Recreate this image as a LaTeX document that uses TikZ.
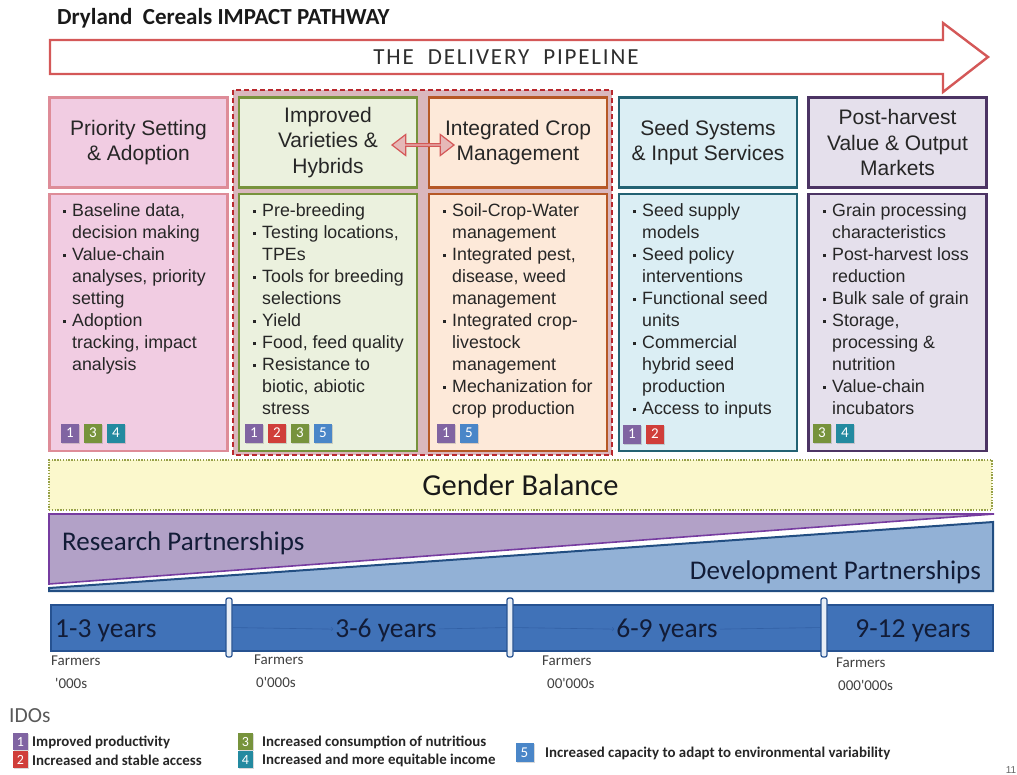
\documentclass[tikz,border=0pt]{standalone}
\usepackage{fontspec}
\setmainfont{Liberation Sans}
\newfontfamily\calibri[Numbers=Lining]{Carlito}
\newfontfamily\pipefont[LetterSpace=8]{Carlito}
\usetikzlibrary{shapes.arrows,shadows,calc}

\definecolor{pinkfill}{RGB}{241,204,226}
\definecolor{pinkline}{RGB}{222,140,152}
\definecolor{greenfill}{RGB}{235,241,222}
\definecolor{greenline}{RGB}{119,147,60}
\definecolor{orangefill}{RGB}{253,233,217}
\definecolor{orangeline}{RGB}{182,88,38}
\definecolor{bluefill}{RGB}{219,238,244}
\definecolor{blueline}{RGB}{35,98,115}
\definecolor{lilacfill}{RGB}{229,224,236}
\definecolor{lilacline}{RGB}{76,52,100}
\definecolor{groupfill}{RGB}{218,183,189}
\definecolor{groupline}{RGB}{185,40,45}
\definecolor{pipered}{RGB}{212,88,88}
\definecolor{swapfill}{RGB}{230,184,183}
\definecolor{genderfill}{RGB}{251,248,204}
\definecolor{genderline}{RGB}{150,160,70}
\definecolor{resfill}{RGB}{178,161,199}
\definecolor{resline}{RGB}{118,60,160}
\definecolor{devfill}{RGB}{146,177,214}
\definecolor{devline}{RGB}{34,78,130}
\definecolor{barfill}{RGB}{64,114,184}
\definecolor{barline}{RGB}{38,82,145}
\definecolor{faintline}{RGB}{50,96,165}
\definecolor{navy}{RGB}{18,28,55}
\definecolor{ido1}{RGB}{128,100,162}
\definecolor{ido2}{RGB}{208,62,58}
\definecolor{ido3}{RGB}{119,147,60}
\definecolor{ido4}{RGB}{35,138,160}
\definecolor{ido5}{RGB}{74,134,200}

\newcommand\fsz[2]{\fontsize{#1}{#2}\selectfont}
\newcommand\bu{\llap{\rule[3pt]{3.6pt}{3.6pt}\hspace{6pt}}}

\tikzset{
  headbox/.style={draw=#1line, fill=#1fill, line width=2.2pt, minimum width=178pt,
    minimum height=90pt, inner sep=0pt, align=center, font=\fsz{21}{25.5}, text=black!85},
  bodybox/.style={draw=#1line, fill=#1fill, line width=2.2pt, minimum width=178pt,
    minimum height=257pt, inner sep=0pt},
  listtext/.style={align=left, anchor=north west, inner sep=0pt, font=\fsz{17.8}{22}, text=black!85},
  badge/.style={fill=#1, text=white, minimum width=18pt, minimum height=19pt, inner sep=0pt,
    font=\calibri\fsz{15}{15}, drop shadow={shadow xshift=1pt, shadow yshift=-1pt, opacity=0.3}},
  keybadge/.style={badge=#1, minimum width=15pt, minimum height=17pt, font=\calibri\fsz{14}{14}},
  keytext/.style={anchor=west, inner sep=0pt, font=\calibri\bfseries\fsz{14.9}{14.9}, text=black!85},
  group/.style={draw=groupline, fill=groupfill, line width=2pt, dash pattern=on 5pt off 3pt},
  swap/.style={double arrow, draw=pipered, fill=swapfill, line width=1.2pt, minimum height=62pt,
    minimum width=21pt, double arrow head extend=4.5pt, double arrow tip angle=75, inner sep=0pt},
  divider/.style={draw=barline, fill=white!88!barfill, rounded corners=2pt, line width=1.2pt,
    minimum width=6pt, minimum height=59pt, inner sep=0pt},
  years/.style={font=\calibri\fsz{27.5}{27.5}, text=navy, inner sep=2pt},
  farmers/.style={align=left, anchor=north west, inner sep=0pt, font=\calibri\fsz{15}{23}, text=black!75},
  faint/.style={draw=faintline, line width=0.6pt}
}

\begin{document}
\begin{tikzpicture}[x=1pt, y=-1pt]
  \useasboundingbox (0,0) rectangle (1017,774);

  % title and pipeline
  \node[anchor=west, inner sep=0pt, font=\calibri\bfseries\fsz{23}{23}, text=black!90] (title) at (57,18) {Dryland\ \ Cereals IMPACT PATHWAY};
  \draw[draw=pipered, fill=white, line width=2.4pt] (50,40) -- (943,40) -- (943,23) -- (988,57) -- (943,92) -- (943,74) -- (50,74) -- cycle;
  \node[font=\pipefont\fsz{23}{23}, text=black!82] (pipe) at (506,57) {THE\ \ DELIVERY\ \ PIPELINE};

  % research group
  \draw[group] (233,90) rectangle (612,455);

  % headers
  \node[headbox=pink] (head1) at (138.5,142.5) {Priority Setting\\\& Adoption};
  \node[headbox=green] (head2) at (328,142.5) {Improved\\Varieties \&\\Hybrids};
  \node[headbox=orange] (head3) at (518,142.5) {Integrated Crop\\Management};
  \node[headbox=blue] (head4) at (708,142.5) {Seed Systems\\\& Input Services};
  \node[headbox=lilac] (head5) at (897.5,142.5) {Post-harvest\\Value \& Output\\Markets};
  \node[swap] (swap) at ($(head2.east)!0.5!(head3.west)+(0,2.5)$) {};

  % bodies
  \node[bodybox=pink] (body1) at (138.5,322.5) {};
  \node[bodybox=green] (body2) at (328,322.5) {};
  \node[bodybox=orange] (body3) at (518,322.5) {};
  \node[bodybox=blue] (body4) at (708,322.5) {};
  \node[bodybox=lilac] (body5) at (897.5,322.5) {};

  \node[listtext] (list1) at (72,203) {\bu Baseline data,\\decision making\\\bu Value-chain\\analyses, priority\\setting\\\bu Adoption\\tracking, impact\\analysis};
  \node[listtext] (list2) at (262,203) {\bu Pre-breeding\\\bu Testing locations,\\TPEs\\\bu Tools for breeding\\selections\\\bu Yield\\\bu Food, feed quality\\\bu Resistance to\\biotic, abiotic\\stress};
  \node[listtext] (list3) at (452,203) {\bu Soil-Crop-Water\\management\\\bu Integrated pest,\\disease, weed\\management\\\bu Integrated crop-\\livestock\\management\\\bu Mechanization for\\crop production};
  \node[listtext] (list4) at (642,203) {\bu Seed supply\\models\\\bu Seed policy\\interventions\\\bu Functional seed\\units\\\bu Commercial\\hybrid seed\\production\\\bu Access to inputs};
  \node[listtext] (list5) at (832,203) {\bu Grain processing\\characteristics\\\bu Post-harvest loss\\reduction\\\bu Bulk sale of grain\\\bu Storage,\\processing \&\\nutrition\\\bu Value-chain\\incubators};

  % IDO badges
  \foreach \n [count=\i] in {1,3,4} \node[badge=ido\n] (c1b\n) at (70+23*\i-23,433) {\n};
  \foreach \n [count=\i] in {1,2,3,5} \node[badge=ido\n] (c2b\n) at (254+23*\i-23,433) {\n};
  \foreach \n [count=\i] in {1,5} \node[badge=ido\n] (c3b\n) at (446+23*\i-23,433) {\n};
  \foreach \n [count=\i] in {1,2} \node[badge=ido\n] (c4b\n) at (632+23*\i-23,434) {\n};
  \foreach \n [count=\i] in {3,4} \node[badge=ido\n] (c5b\n) at (822+23*\i-23,433) {\n};

  % gender and partnerships
  \node[draw=genderline, fill=genderfill, line width=1.6pt, dash pattern=on 1.4pt off 1.4pt,
    minimum width=943pt, minimum height=50pt, inner sep=0pt, font=\calibri\fsz{30.5}{30.5}, text=black!90] (gender) at (520.5,485) {Gender Balance};
  \draw[draw=resline, fill=resfill, line width=1.6pt] (49,514) -- (994,514) -- (49,584) -- cycle;
  \draw[draw=devline, fill=devfill, line width=2pt] (49,588) -- (993,522) -- (993,591) -- (49,591) -- cycle;
  \node[anchor=west, inner sep=0pt, font=\calibri\fsz{27}{27}, text=navy] (research) at (62,543) {Research Partnerships};
  \node[anchor=east, inner sep=0pt, font=\calibri\fsz{27}{27}, text=navy] (develop) at (981,572) {Development Partnerships};

  % timeline
  \draw[draw=barline, fill=barfill, line width=1.4pt] (51,605) rectangle (993,651);
  \node[years, anchor=base west] (t1) at (53,637) {1-3 years};
  \node[years, anchor=base] (t2) at (386,637) {3-6 years};
  \node[years, anchor=base] (t3) at (667,637) {6-9 years};
  \node[years, anchor=base] (t4) at (913,637) {9-12 years};
  \node[divider] (d1) at (229,627.5) {};
  \node[divider] (d2) at (510,627.5) {};
  \node[divider] (d3) at (824,627.5) {};
  \draw[faint,->] (d1) -- (t2);
  \draw[faint] (t2) -- (d2);
  \draw[faint,->] (d2) -- (t3);
  \draw[faint] (t3) -- (d3);

  \node[farmers] (f1) at (51,656) {Farmers\\\hspace*{4pt}'000s};
  \node[farmers] (f2) at (254,655) {Farmers\\\hspace*{2pt}0'000s};
  \node[farmers] (f3) at (542,656) {Farmers\\\hspace*{5pt}00'000s};
  \node[farmers] (f4) at (836,658) {Farmers\\\hspace*{2pt}000'000s};

  % legend
  \node[anchor=west, inner sep=0pt, font=\calibri\fsz{21.5}{21.5}, text=black!65] (idos) at (9,716) {IDOs};
  \node[keybadge=ido1] (k1) at (20.5,741.5) {1};
  \node[keybadge=ido2] (k2) at (20.5,759.5) {2};
  \node[keybadge=ido3] (k3) at (245.5,741.5) {3};
  \node[keybadge=ido4] (k4) at (245.5,759.5) {4};
  \node[badge=ido5] (k5) at (524.5,752.5) {5};
  \node[keytext] (l1) at (32,742) {Improved productivity};
  \node[keytext] (l2) at (32,760) {Increased and stable access};
  \node[keytext] (l3) at (262,742) {Increased consumption of nutritious};
  \node[keytext] (l4) at (262,760) {Increased and more equitable income};
  \node[keytext] (l5) at (545,753) {Increased capacity to adapt to environmental variability};
  \node[font=\fsz{10}{10}, text=black!60] (page) at (1011,770) {11};
\end{tikzpicture}
\end{document}
